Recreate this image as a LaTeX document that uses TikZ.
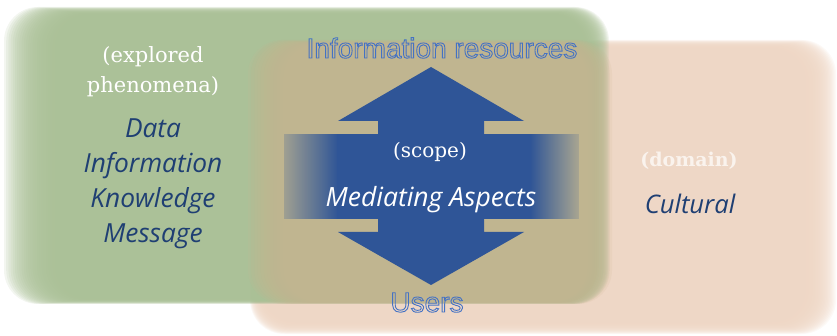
\documentclass[tikz,border=0pt]{standalone}
\usepackage{fontspec}
\usetikzlibrary{fadings}
\newfontfamily\labsans{Liberation Sans}
\newfontfamily\itsans{Open Sans}
\newfontfamily\serifA{DejaVu Serif}
\definecolor{grn}{HTML}{A9BF95}
\definecolor{peach}{HTML}{EED6C4}
\definecolor{tan}{HTML}{C5B48F}
\definecolor{arrowblue}{HTML}{2F5597}
\definecolor{txtblue}{HTML}{1F3F73}
\definecolor{outblue}{HTML}{4472C4}
\tikzfading[name=fadeL, left color=transparent!78, right color=transparent!0]
\tikzfading[name=fadeR, left color=transparent!0, right color=transparent!85]
\newcommand{\softrect}[9]{%
  \foreach \k in {0,...,23}{%
    \fill[#1, fill opacity=0.14, rounded corners=34pt]
      ({#2+\k*#6},{#3+\k*#7}) rectangle ({#4-\k*#8},{#5-\k*#9});
  }}
\newcommand{\outlinetext}[1]{\special{pdf:literal direct 1 Tr 0.9 w}#1\special{pdf:literal direct 0 Tr}}
\tikzset{
  outl/.style={font=\labsans\fontsize{28}{30}\selectfont, text=outblue, inner sep=0pt, anchor=base},
  itlab/.style={font=\itsans\itshape\fontsize{26.3}{28}\selectfont, text=txtblue, inner sep=0pt, anchor=base},
  serlab/.style={font=\serifA\fontsize{21}{23}\selectfont, text=white, inner sep=0pt, anchor=base},
}
\begin{document}
\begin{tikzpicture}[x=1pt,y=-1pt]
\useasboundingbox (0,0) rectangle (837,336);
% soft backgrounds
\softrect{peach}{250}{40}{836}{334}{0.5}{0.35}{1.3}{0.5}
\softrect{grn}{4}{7}{609}{304}{2.2}{0.3}{1.0}{0.2}
\softrect{tan}{248}{40}{612}{304}{3.2}{0.35}{2.2}{0.2}
% horizontal band
\fill[arrowblue, path fading=fadeL] (284,134) rectangle (338,219);
\fill[arrowblue] (337,134) rectangle (531,219);
\fill[arrowblue, path fading=fadeR] (530,134) rectangle (579,219);
% double arrow
\fill[arrowblue] (431,67) -- (524,121) -- (484,121) -- (484,232) -- (524,232)
  -- (431,285) -- (338,232) -- (378,232) -- (378,121) -- (338,121) -- cycle;
% texts
\node[outl] (inforesources) at (442,58) {\outlinetext{Information resources}};
\node[outl] (users) at (427,312) {\outlinetext{Users}};
\node[serlab] (explored) at (153,63) {(explored};
\node[serlab] (phenomena) at (153,93) {phenomena)};
\node[itlab] (data) at (153,138) {Data};
\node[itlab] (information) at (153,173) {Information};
\node[itlab] (knowledge) at (153,208) {Knowledge};
\node[itlab] (message) at (153,243) {Message};
\node[serlab, font=\serifA\fontsize{20}{22}\selectfont] (scope) at (430,158) {(scope)};
\node[itlab, text=white, font=\itsans\itshape\fontsize{26.5}{28}\selectfont] (mediating) at (431,207) {Mediating Aspects};
\node[serlab, font=\serifA\bfseries\fontsize{19}{21}\selectfont, text opacity=0.7] (domain) at (689,167) {(domain)};
\node[itlab, font=\itsans\itshape\fontsize{25.6}{28}\selectfont] (cultural) at (690,214) {Cultural};
\end{tikzpicture}
\end{document}
